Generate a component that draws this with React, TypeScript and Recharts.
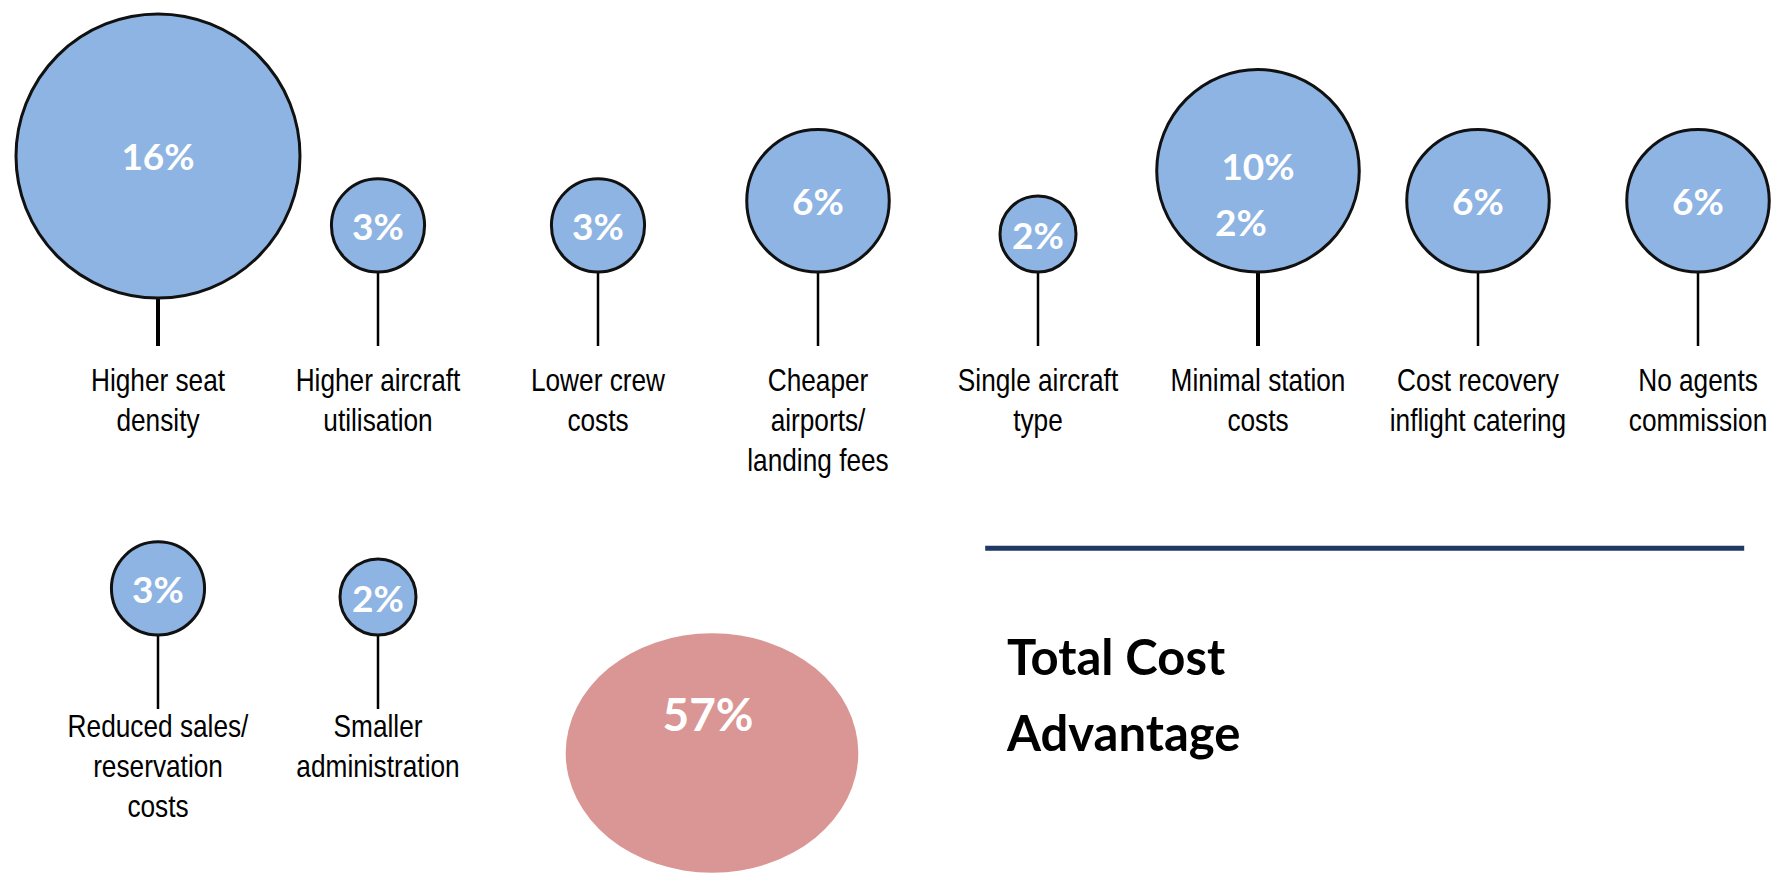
import { ScatterChart, Scatter, XAxis, YAxis, ZAxis, ReferenceLine } from "recharts";

const categories = [
  "Higher seat\ndensity",
  "Higher aircraft\nutilisation",
  "Lower crew\ncosts",
  "Cheaper\nairports/\nlanding fees",
  "Single aircraft\ntype",
  "Minimal station\ncosts",
  "Cost recovery\ninflight catering",
  "No agents\ncommission",
  "Reduced sales/\nreservation\ncosts",
  "Smaller\nadministration",
];
const savings = [16, 3, 3, 6, 2, 10, 6, 6, 3, 2];
// the original slide has a stray "2%" sitting inside the station costs bubble
const strayLabels = ["", "", "", "", "", "2%", "", "", "", ""];
const totalTitle = ["Total Cost", "Advantage"];
const totalSaving = 57;

const PER_ROW = 8;
const bubbles = categories.map((name, i) => ({
  name,
  value: savings[i],
  extra: strayLabels[i],
  col: i % PER_ROW,
  row: Math.floor(i / PER_ROW),
}));
const totalData = [{ name: "Total", value: totalSaving, col: 2.5, row: 1 }];

const labelFont = "'Liberation Sans', Arial, sans-serif";
const pctFont = "Lato, 'Open Sans', sans-serif";

// bubble area grows a bit faster than the value, like on the slide
const SIZE_POW = 1.5;

function Balloon(props: any) {
  const { cx, cy, width, payload } = props;
  const r = width / 2;
  const top = payload.row === 0;
  const stemEnd = cy - (top ? 34 : 17);
  // keep the big one inside the picture
  const by = Math.max(cy - (top ? 108 : 91) - r, 14 + r);
  const lines: string[] = payload.name.split("\n");
  return (
    <g>
      <line x1={cx} y1={stemEnd} x2={cx} y2={by + r} stroke="#000" strokeWidth={r > 100 ? 4 : 2.5} />
      <circle cx={cx} cy={by} r={r} fill="#8EB4E3" stroke="#111" strokeWidth={3} />
      <text
        x={cx}
        y={payload.extra ? by - 5 : by}
        textAnchor="middle"
        dominantBaseline="central"
        fill="#fff"
        fontFamily={pctFont}
        fontWeight={700}
        fontSize={37}
      >
        {payload.value}%
      </text>
      {payload.extra && (
        <text
          x={cx - 17}
          y={by + 51}
          textAnchor="middle"
          dominantBaseline="central"
          fill="#fff"
          fontFamily={pctFont}
          fontWeight={700}
          fontSize={37}
        >
          {payload.extra}
        </text>
      )}
      <g transform={`translate(${cx},${cy + 11}) scale(0.82,1)`}>
        <text x={0} y={0} textAnchor="middle" fill="#000" fontFamily={labelFont} fontSize={32}>
          {lines.map((l, i) => (
            <tspan key={i} x={0} dy={i === 0 ? 0 : 40}>
              {l}
            </tspan>
          ))}
        </text>
      </g>
    </g>
  );
}

function TotalBubble(props: any) {
  const { cx, cy, width, payload } = props;
  const r = width / 2;
  return (
    <g>
      <ellipse cx={cx + 4} cy={cy + 27} rx={r * 1.1} ry={r * 0.9} fill="#D99694" />
      <text
        x={cx}
        y={cy - 13}
        textAnchor="middle"
        dominantBaseline="central"
        fill="#fff"
        fontFamily={pctFont}
        fontWeight={700}
        fontSize={46}
      >
        {payload.value}%
      </text>
    </g>
  );
}

export default function App() {
  return (
    <div style={{ position: "absolute", left: 0, top: 0, width: 1779, height: 877, background: "#fff", overflow: "hidden" }}>
      <ScatterChart width={1779} height={877} margin={{ top: 380, bottom: 151, left: 158, right: 81 }}>
        <XAxis type="number" dataKey="col" domain={[0, 7]} hide />
        <YAxis type="number" dataKey="row" domain={[0, 1]} reversed hide />
        <ZAxis
          type="number"
          dataKey={(d: any) => Math.pow(d.value, SIZE_POW)}
          domain={[Math.pow(2, SIZE_POW), Math.pow(16, SIZE_POW)]}
          range={[4536, 63347]}
        />
        <ZAxis type="number" dataKey="value" zAxisId="total" range={[55571, 55571]} />
        <ReferenceLine
          segment={[
            { x: 3.76, y: 0.486 },
            { x: 7.21, y: 0.486 },
          ]}
          stroke="#1F3864"
          strokeWidth={5}
          ifOverflow="visible"
        />
        <Scatter data={bubbles} shape={Balloon} isAnimationActive={false} />
        <Scatter data={totalData} zAxisId="total" shape={TotalBubble} isAnimationActive={false} />
      </ScatterChart>
      <div
        style={{
          position: "absolute",
          left: 1007,
          top: 618,
          fontFamily: pctFont,
          fontWeight: 700,
          fontSize: 49,
          lineHeight: "76px",
          color: "#000",
        }}
      >
        {totalTitle.map((t) => (
          <div key={t}>{t}</div>
        ))}
      </div>
    </div>
  );
}
